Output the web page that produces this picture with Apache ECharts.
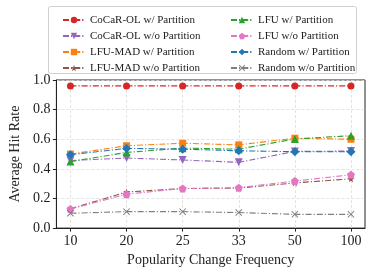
<!DOCTYPE html>
<html><head><meta charset="utf-8">
<script src="https://cdn.jsdelivr.net/npm/echarts@6/dist/echarts.min.js"></script>
<style>html,body{margin:0;padding:0;background:#fff}#c{width:373px;height:272px}</style>
</head><body><div id="c"></div>
<script>
const categories = ['10','20','25','33','50','100'];
const cocarW   = [0.96, 0.96, 0.96, 0.96, 0.96, 0.96];
const cocarWo  = [0.456, 0.473, 0.46, 0.444, 0.518, 0.52];
const lfumadW  = [0.50, 0.556, 0.573, 0.562, 0.607, 0.60];
const lfumadWo = [0.13, 0.244, 0.267, 0.27, 0.305, 0.333];
const lfuW     = [0.449, 0.511, 0.54, 0.533, 0.602, 0.624];
const lfuWo    = [0.129, 0.229, 0.267, 0.273, 0.318, 0.36];
const randW    = [0.496, 0.538, 0.533, 0.522, 0.516, 0.516];
const randWo   = [0.10, 0.111, 0.111, 0.105, 0.093, 0.093];
const yTicks = [0, 0.2, 0.4, 0.6, 0.8, 1.0];

const SERIF = '"Liberation Serif","DejaVu Serif",serif';
const star = 'path://M0,-10L2.35,-3.24L9.51,-3.09L3.8,1.24L5.88,8.09L0,4L-5.88,8.09L-3.8,1.24L-9.51,-3.09L-2.35,-3.24Z';
const pent = 'path://M0,-10L9.51,-3.09L5.88,8.09L-5.88,8.09L-9.51,-3.09Z';
const tdown = 'path://M-10,-8L10,-8L0,9Z';
const xmark = 'path://M1,0L5,4L9,0L10,1L6,5L10,9L9,10L5,6L1,10L0,9L4,5L0,1Z';

const defs = [
  ['CoCaR-OL w/ Partition', cocarW, '#d62728', 'circle', 7],
  ['CoCaR-OL w/o Partition', cocarWo, '#9467bd', tdown, 8],
  ['LFU-MAD w/ Partition', lfumadW, '#ff7f0e', 'rect', 7],
  ['LFU-MAD w/o Partition', lfumadWo, '#8c564b', star, 7],
  ['LFU w/ Partition', lfuW, '#2ca02c', 'triangle', 8],
  ['LFU w/o Partition', lfuWo, '#e377c2', pent, 8],
  ['Random w/ Partition', randW, '#1f77b4', 'diamond', 9],
  ['Random w/o Partition', randWo, '#7f7f7f', xmark, 7],
];

const series = defs.map(d => ({
  name: d[0], type: 'line',
  data: d[1].map((v, i) => [i, v]),
  symbol: d[3], symbolSize: d[4],
  itemStyle: {color: d[2]},
  lineStyle: {color: d[2], width: 1.1, type: [6, 2, 1.2, 2]},
  emphasis: {disabled: true},
  animation: false
}));

const legendCommon = {
  orient: 'vertical', top: 9, itemWidth: 22, itemHeight: 8, itemGap: 4,
  textStyle: {fontFamily: SERIF, fontSize: 11, color: '#222', lineHeight: 12},
  z: 10, selectedMode: false
};

const chart = echarts.init(document.getElementById('c'), null, {renderer: 'canvas'});
chart.setOption({
  animation: false,
  graphic: [{type: 'rect', shape: {x: 48.5, y: 6.5, width: 308, height: 67, r: 2},
    style: {fill: '#fff', stroke: '#d0d0d0', lineWidth: 1}, z: 1}],
  legend: [
    Object.assign({left: 57, data: defs.slice(0, 4).map(d => d[0])}, legendCommon),
    Object.assign({left: 225, data: defs.slice(4).map(d => d[0])}, legendCommon)
  ],
  grid: {left: 46, right: 8, top: 80, bottom: 42, show: true, borderColor: '#222', borderWidth: 1, backgroundColor: 'transparent'},
  xAxis: {
    type: 'value', min: -0.25, max: 5.25,
    name: 'Popularity Change Frequency', nameLocation: 'middle', nameGap: 22,
    nameTextStyle: {fontFamily: SERIF, fontSize: 14, color: '#222'},
    axisLine: {show: true, onZero: false, lineStyle: {color: '#222', width: 1}},
    axisTick: {show: true, length: 3.5, lineStyle: {color: '#222'}, customValues: [0,1,2,3,4,5]},
    axisLabel: {fontFamily: SERIF, fontSize: 14, color: '#222', margin: 6,
      customValues: [0,1,2,3,4,5], formatter: v => categories[Math.round(v)]},
    splitLine: {show: true, lineStyle: {color: '#dcdcdc', type: [3, 2], width: 0.8}}
  },
  yAxis: {
    type: 'value', min: 0, max: 1, interval: 0.2,
    name: 'Average Hit Rate', nameLocation: 'middle', nameGap: 27,
    nameTextStyle: {fontFamily: SERIF, fontSize: 14, color: '#222'},
    axisLine: {show: true, onZero: false, lineStyle: {color: '#222', width: 1}},
    axisTick: {show: true, length: 3.5, lineStyle: {color: '#222'}},
    axisLabel: {fontFamily: SERIF, fontSize: 14, color: '#222', margin: 6,
      formatter: v => yTicks.find(t => Math.abs(t - v) < 1e-6).toFixed(1)},
    splitLine: {show: true, lineStyle: {color: '#dcdcdc', type: [3, 2], width: 0.8}}
  },
  series: series
});
</script></body></html>
